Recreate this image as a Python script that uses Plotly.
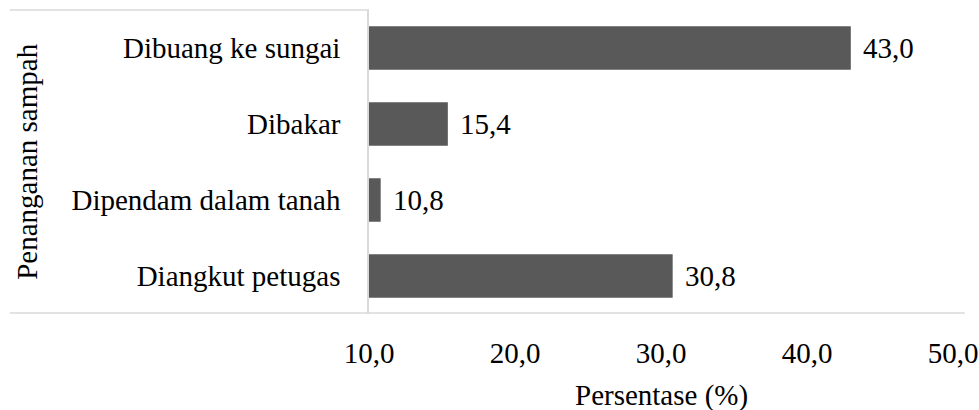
import plotly.graph_objects as go

# Waste handling practices (percent of respondents)
categories = ["Diangkut petugas", "Dipendam dalam tanah", "Dibakar", "Dibuang ke sungai"]
values = [30.8, 10.8, 15.4, 43.0]
x_ticks = [10, 20, 30, 40, 50]
x_tick_labels = ["10,0", "20,0", "30,0", "40,0", "50,0"]

FONT = "Liberation Serif"
FS = 29
BAR = "#595959"
LINE = "#d9d9d9"

fig = go.Figure(go.Bar(
    y=categories, x=values, orientation="h",
    marker=dict(color=BAR, line=dict(width=0)),
    width=0.57,
))

# value labels to the right of each bar
for c, v in zip(categories, values):
    fig.add_annotation(
        x=v, y=c, xref="x", yref="y",
        text=f"{v:.1f}".replace(".", ","),
        showarrow=False, xanchor="left", xshift=10,
        font=dict(family=FONT, size=FS, color="#000000"),
    )

# axis titles
fig.add_annotation(
    x=-0.586, y=0.5, xref="paper", yref="paper",
    text="Penanganan sampah", textangle=-90, showarrow=False,
    xanchor="center", yanchor="middle",
    font=dict(family=FONT, size=FS, color="#000000"),
)
fig.add_annotation(
    x=0.5, y=-0.268, xref="paper", yref="paper",
    text="Persentase (%)", showarrow=False, yanchor="middle",
    font=dict(family=FONT, size=FS, color="#000000"),
)

# frame lines around the category area
fig.add_shape(type="line", xref="paper", yref="paper",
              x0=-0.615, x1=0, y0=1, y1=1, line=dict(color=LINE, width=1.5))
fig.add_shape(type="line", xref="paper", yref="paper",
              x0=-0.615, x1=1.02, y0=0.003, y1=0.003, line=dict(color=LINE, width=1.5))

fig.update_layout(
    width=979, height=410,
    margin=dict(l=369, r=26, t=10, b=96, autoexpand=False),
    paper_bgcolor="white", plot_bgcolor="white",
    showlegend=False,
    separators=",.",
    font=dict(family=FONT, size=FS, color="#000000"),
    xaxis=dict(
        range=[10, 50], tickvals=x_ticks, ticktext=x_tick_labels,
        showgrid=False, zeroline=False, showline=False, ticks="",
        ticklabelstandoff=19, automargin=False,
        tickfont=dict(family=FONT, size=FS, color="#000000"),
    ),
    yaxis=dict(
        categoryorder="array", categoryarray=categories,
        showgrid=False, zeroline=False, automargin=False,
        showline=True, linecolor=LINE, linewidth=1.5, ticks="",
        ticklabelstandoff=21,
        tickfont=dict(family=FONT, size=FS, color="#000000"),
    ),
)

fig.write_html("out.html")
